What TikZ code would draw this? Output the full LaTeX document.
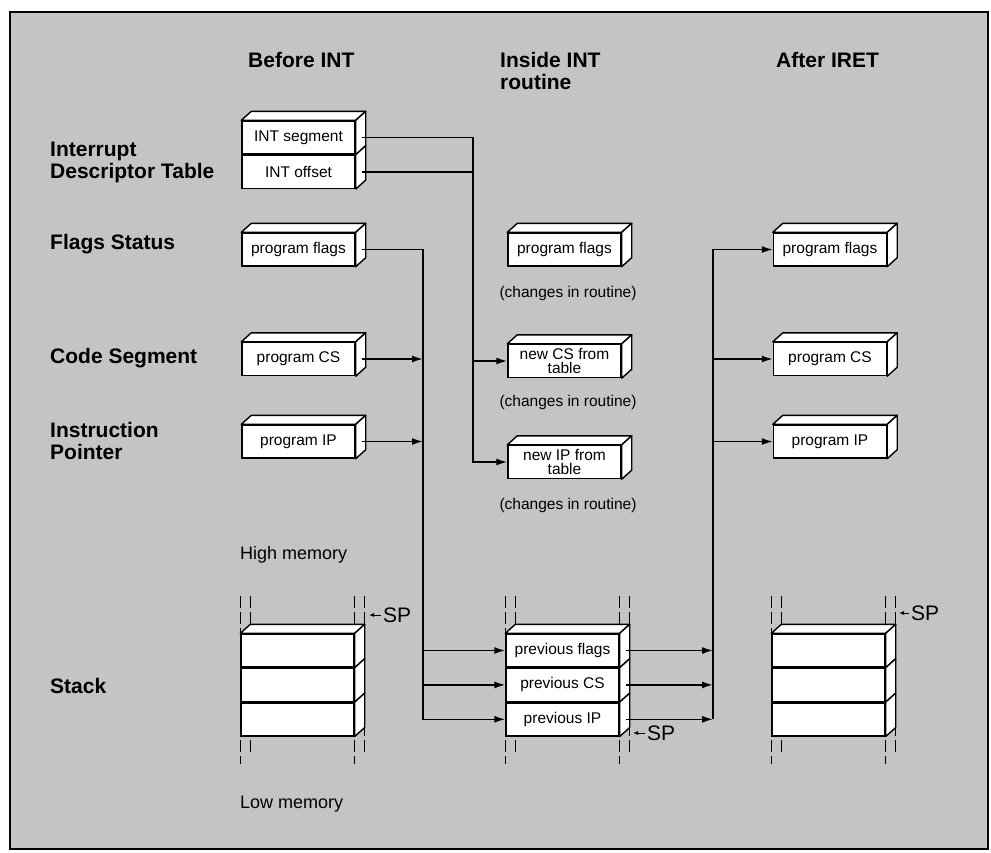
\documentclass[tikz,border=0pt]{standalone}
\usepackage{fontspec}
\setmainfont{Liberation Sans}
\usepackage{tikz}
\usetikzlibrary{arrows.meta, positioning, calc, backgrounds}
\definecolor{screengray}{RGB}{196,196,196}

\begin{document}
\begin{tikzpicture}[
    x=1pt, y=-1pt,
    node distance=0pt,
    regbox/.style={rectangle, draw, fill=white, line width=1.4pt, minimum width=113pt, minimum height=33pt, inner sep=0pt, align=center, font=\fontsize{15.5}{14.5}\selectfont},
    face/.style={draw, fill=white, line width=1.4pt, line join=round},
    rowlabel/.style={anchor=west, align=left, inner sep=0pt, font=\fontsize{21}{22}\selectfont\bfseries},
    note/.style={font=\fontsize{15.5}{17}\selectfont},
    memlabel/.style={anchor=west, inner sep=0pt, font=\fontsize{18}{20}\selectfont},
    splabel/.style={anchor=west, inner sep=0pt, inner xsep=2pt, font=\fontsize{21}{22}\selectfont},
    arr/.style={-{Latex[length=11pt,width=7pt]}, line width=1.6pt},
    bus/.style={line width=1.6pt},
    sparr/.style={-{Latex[length=5pt,width=4pt]}, line width=1pt},
    memdash/.style={line width=1.2pt, dash pattern=on 12pt off 4pt}
  ]
  \useasboundingbox (0,0) rectangle (991,852);

  % column headings
  \node[rowlabel] (hbefore) at (248,60) {Before INT};
  \node[rowlabel] (hinside) at (500,71) {Inside INT\\routine};
  \node[rowlabel] (hafter) at (776,60) {After IRET};

  % row headings
  \node[rowlabel] (lidt) at (50,162) {Interrupt\\Descriptor Table};
  \node[rowlabel] (lflags) at (50,244) {Flags Status};
  \node[rowlabel] (lcs) at (50,358) {Code Segment};
  \node[rowlabel] (lip) at (50,441) {Instruction\\Pointer};
  \node[rowlabel] (lstack) at (50,686) {Stack};

  % before INT
  \node[regbox] (seg) at (298.5,137.5) {INT segment};
  \node[regbox, below=of seg] (off) {INT offset};
  \node[regbox] (flg1) at (298.5,249.5) {program flags};
  \node[regbox] (cs1) at (298.5,359) {program CS};
  \node[regbox] (ip1) at (298.5,441.5) {program IP};

  % inside INT routine
  \node[regbox] (flg2) at (564.5,249.5) {program flags};
  \node[note] (chg1) at (568,293) {(changes in routine)};
  \node[regbox] (newcs) at (564.5,361) {new CS from\\table};
  \node[note] (chg2) at (568,402) {(changes in routine)};
  \node[regbox] (newip) at (564.5,462) {new IP from\\table};
  \node[note] (chg3) at (568,505) {(changes in routine)};

  % after IRET
  \node[regbox] (flg3) at (830,249.5) {program flags};
  \node[regbox] (cs3) at (830,359) {program CS};
  \node[regbox] (ip3) at (830,441.5) {program IP};

  % memory
  \node[memlabel] (hmem) at (240,555) {High memory};
  \node[memlabel] (lmem) at (240,804) {Low memory};

  % stacks
  \node[regbox] (s1a) at (297.5,650.5) {};
  \node[regbox, below=of s1a] (s1b) {};
  \node[regbox, below=of s1b] (s1c) {};
  \node[regbox] (prevf) at (562.5,650.5) {previous flags};
  \node[regbox, below=of prevf] (prevcs) {previous CS};
  \node[regbox, below=of prevcs] (previp) {previous IP};
  \node[regbox] (s3a) at (828.5,650.5) {};
  \node[regbox, below=of s3a] (s3b) {};
  \node[regbox, below=of s3b] (s3c) {};

  % box depth
  \foreach \n in {seg,flg1,cs1,ip1,flg2,newcs,newip,flg3,cs3,ip3,s1a,prevf,s3a}
    \draw[face] (\n.north west) -- ++(10,-9) -- ($(\n.north east)+(10,-9)$) -- (\n.north east) -- cycle;
  \foreach \n in {seg,off,flg1,cs1,ip1,flg2,newcs,newip,flg3,cs3,ip3,s1a,s1b,s1c,prevf,prevcs,previp,s3a,s3b,s3c}
    \draw[face] (\n.north east) -- ++(10,-9) -- ($(\n.south east)+(10,-9)$) -- (\n.south east) -- cycle;

  % stack pointers
  \node[splabel] (sp1) at (381,615) {SP};
  \coordinate (sp1tip) at (369,615);
  \node[splabel] (sp2) at (645,733) {SP};
  \coordinate (sp2tip) at (633,733);
  \node[splabel] (sp3) at (909,613) {SP};
  \coordinate (sp3tip) at (899,613);
  \draw[sparr] (sp1.west) -- (sp1tip);
  \draw[sparr] (sp2.west) -- (sp2tip);
  \draw[sparr] (sp3.west) -- (sp3tip);

  % buses
  \coordinate (busA) at (473,0);
  \coordinate (busB) at (423,0);
  \coordinate (busC) at (713,0);

  \draw[arr] ([xshift=6pt]seg.east) -- (seg.east -| busA) |- (newip.west);
  \draw[bus] ([xshift=6pt]off.east) -- (off.east -| busA);
  \draw[arr] (newcs.west -| busA) -- (newcs.west);

  \draw[arr] ([xshift=6pt]flg1.east) -- (flg1.east -| busB) |- (previp.west);
  \draw[arr] ([xshift=6pt]cs1.east) -- (cs1.east -| busB);
  \draw[arr] ([xshift=6pt]ip1.east) -- (ip1.east -| busB);
  \draw[arr] (prevf.west -| busB) -- (prevf.west);
  \draw[arr] (prevcs.west -| busB) -- (prevcs.west);

  \draw[arr] ([xshift=6pt]prevf.east) -- (prevf.east -| busC);
  \draw[arr] ([xshift=6pt]prevcs.east) -- (prevcs.east -| busC);
  \draw[arr] ([xshift=6pt]previp.east) -- (previp.east -| busC);
  \draw[arr] (previp.east -| busC) |- (flg3.west);
  \draw[arr] (cs3.west -| busC) -- (cs3.west);
  \draw[arr] (ip3.west -| busC) -- (ip3.west);

  % screen and memory edges
  \begin{scope}[on background layer]
    \draw[line width=2pt, fill=screengray] (10,12) rectangle (988,849);
    \foreach \t/\b in {s1a/s1c, prevf/previp, s3a/s3c} {
      \draw[memdash] ($(\t.north west)+(0,-37)$) -- ($(\b.south west)+(0,27)$);
      \draw[memdash] ($(\t.north east)+(0,-37)$) -- ($(\b.south east)+(0,27)$);
      \draw[memdash] ($(\t.north west)+(10,-37)$) -- ($(\b.south west)+(10,17)$);
      \draw[memdash] ($(\t.north east)+(10,-37)$) -- ($(\b.south east)+(10,17)$);
    }
  \end{scope}
\end{tikzpicture}
\end{document}
